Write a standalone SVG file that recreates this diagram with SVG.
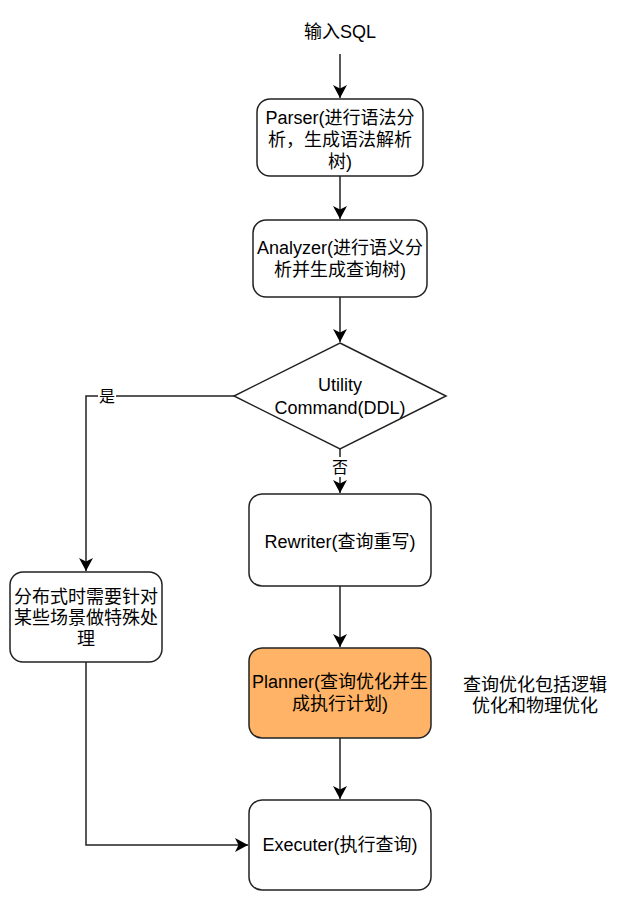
<svg xmlns="http://www.w3.org/2000/svg" width="621" height="908" viewBox="0 0 621 908">
<style>
.box{fill:#fff;stroke:#222;stroke-width:1.5}
.hl{fill:#FFB366}
.t{font-family:"Liberation Sans","Noto Sans CJK SC",sans-serif;font-size:18px;fill:#000;text-anchor:middle}
.lbl{font-family:"Liberation Sans","Noto Sans CJK SC",sans-serif;font-size:16px;fill:#000;text-anchor:middle}
.c{fill:none;stroke:#222;stroke-width:1.5}
</style>
<defs>
<marker id="arr" markerUnits="userSpaceOnUse" markerWidth="16" markerHeight="16" refX="13" refY="7" orient="auto">
<path d="M0,0 L13,7 L0,14 L3.5,7 Z" fill="#000"/>
</marker>
</defs>
<g id="connectors">
<path class="c" d="M340,54 V98" marker-end="url(#arr)"/>
<path class="c" d="M340,176 V219" marker-end="url(#arr)"/>
<path class="c" d="M340,297 V342" marker-end="url(#arr)"/>
<path class="c" d="M340,448 V493" marker-end="url(#arr)"/>
<path class="c" d="M235,396 H86 V571" marker-end="url(#arr)"/>
<path class="c" d="M340,586 V647" marker-end="url(#arr)"/>
<path class="c" d="M340,738 V799" marker-end="url(#arr)"/>
<path class="c" d="M86,662 V845 H248" marker-end="url(#arr)"/>
<rect x="98" y="386" width="18" height="20" fill="#fff"/>
<text class="lbl" x="107" y="402">是</text>
<rect x="331" y="457" width="18" height="20" fill="#fff"/>
<text class="lbl" x="340" y="473">否</text>
</g>
<g id="input">
<text class="t" x="340" y="38">输入SQL</text>
</g>
<g id="parser">
<rect class="box" x="257" y="99" width="166" height="77" rx="13"/>
<text class="t" x="340" y="124">Parser(进行语法分</text>
<text class="t" x="340" y="146">析，生成语法解析</text>
<text class="t" x="340" y="168">树)</text>
</g>
<g id="analyzer">
<rect class="box" x="253" y="220" width="174" height="77" rx="13"/>
<text class="t" x="340" y="254">Analyzer(进行语义分</text>
<text class="t" x="340" y="276">析并生成查询树)</text>
</g>
<g id="utility">
<path class="box" d="M340,343 L446,396 L340,449 L234,396 Z"/>
<text class="t" x="340" y="391">Utility</text>
<text class="t" x="340" y="414">Command(DDL)</text>
</g>
<g id="rewriter">
<rect class="box" x="249" y="494" width="182" height="92" rx="13"/>
<text class="t" x="340" y="548">Rewriter(查询重写)</text>
</g>
<g id="distributed">
<rect class="box" x="10" y="572" width="152" height="90" rx="13"/>
<text class="t" x="86" y="603">分布式时需要针对</text>
<text class="t" x="86" y="624">某些场景做特殊处</text>
<text class="t" x="86" y="645">理</text>
</g>
<g id="planner">
<rect class="box hl" x="249" y="648" width="182" height="90" rx="13"/>
<text class="t" x="340" y="688">Planner(查询优化并生</text>
<text class="t" x="340" y="710">成执行计划)</text>
</g>
<g id="note">
<text class="t" x="535" y="691">查询优化包括逻辑</text>
<text class="t" x="535" y="712">优化和物理优化</text>
</g>
<g id="executer">
<rect class="box" x="249" y="800" width="182" height="90" rx="13"/>
<text class="t" x="340" y="851">Executer(执行查询)</text>
</g>
</svg>
